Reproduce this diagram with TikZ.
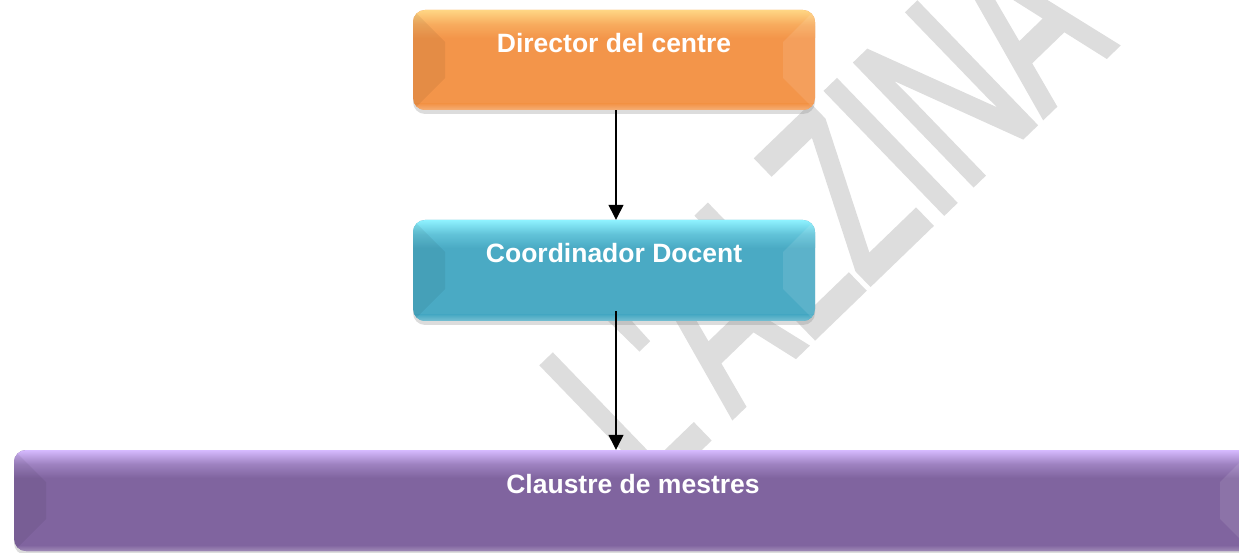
\documentclass[tikz,border=0pt]{standalone}
\usepackage{fontspec}
\setmainfont{Liberation Sans}
\newfontfamily\wmfont[FakeBold=3]{Liberation Sans}
\usepackage{graphicx}
\usetikzlibrary{arrows.meta,shadows}
\definecolor{orbase}{HTML}{F3954A}
\definecolor{orhl}{HTML}{FFD684}
\definecolor{blbase}{HTML}{4AAAC4}
\definecolor{blhl}{HTML}{8EF2FF}
\definecolor{pubase}{HTML}{80649F}
\definecolor{puhl}{HTML}{D6BAFF}
\definecolor{wm}{HTML}{DDDDDD}
\tikzset{
  bevelbox/.style n args={2}{
    rectangle, rounded corners=12pt, inner xsep=0pt, inner ysep=0pt,
    fill=#1, text=white, font=\fontsize{26.5}{30}\selectfont\bfseries,
    drop shadow={shadow xshift=0pt, shadow yshift=-4pt, opacity=0.28},
    path picture={
      \coordinate (pnw) at (path picture bounding box.north west);
      \coordinate (pne) at (path picture bounding box.north east);
      \coordinate (psw) at (path picture bounding box.south west);
      \coordinate (pse) at (path picture bounding box.south east);
      \shade[sharp corners, top color=#2, bottom color=#1, middle color=#2!35!#1] (pnw) rectangle ([yshift=-28pt]pne);
      \shade[sharp corners, top color=#1, bottom color=#1!75!white] ([yshift=6pt]psw) rectangle (pse);
      \fill[sharp corners, black, opacity=0.06] (pnw) -- ([shift={(32pt,-32pt)}]pnw) -- ([shift={(32pt,32pt)}]psw) -- (psw) -- cycle;
      \fill[sharp corners, white, opacity=0.10] (pne) -- ([shift={(-32pt,-32pt)}]pne) -- ([shift={(-32pt,32pt)}]pse) -- (pse) -- cycle;
    }
  },
  arr/.style={line width=1.3pt, -{Triangle[width=15pt,length=15pt]}},
  wmstyle/.style={anchor=base west, rotate=44, text=wm, inner sep=0pt}
}
\begin{document}
\begin{tikzpicture}[x=1pt,y=1pt]
\useasboundingbox (0,0) rectangle (1239,552);
\clip (0,0) rectangle (1239,552);
\node[wmstyle] (wmark) at (650,57) {\scalebox{0.63}[1]{\fontsize{242}{242}\wmfont L'ALZINA}};
\node[bevelbox={orbase}{orhl}, minimum width=402pt, text height=43pt, text depth=57pt] (dir) at (614,492) {Director del centre};
\node[bevelbox={blbase}{blhl}, minimum width=402pt, text height=43pt, text depth=58pt] (coord) at (614,281.5) {Coordinador Docent};
\node[bevelbox={pubase}{puhl}, minimum width=1238pt, text height=43pt, text depth=58pt] (claus) at (633,51.5) {Claustre de mestres};
\draw[arr] ([xshift=2pt]dir.south) -- ([xshift=2pt]coord.north);
\coordinate (a2) at ([xshift=2pt,yshift=10pt]coord.south);
\draw[arr] (a2) -- (a2 |- claus.north);
\end{tikzpicture}
\end{document}
